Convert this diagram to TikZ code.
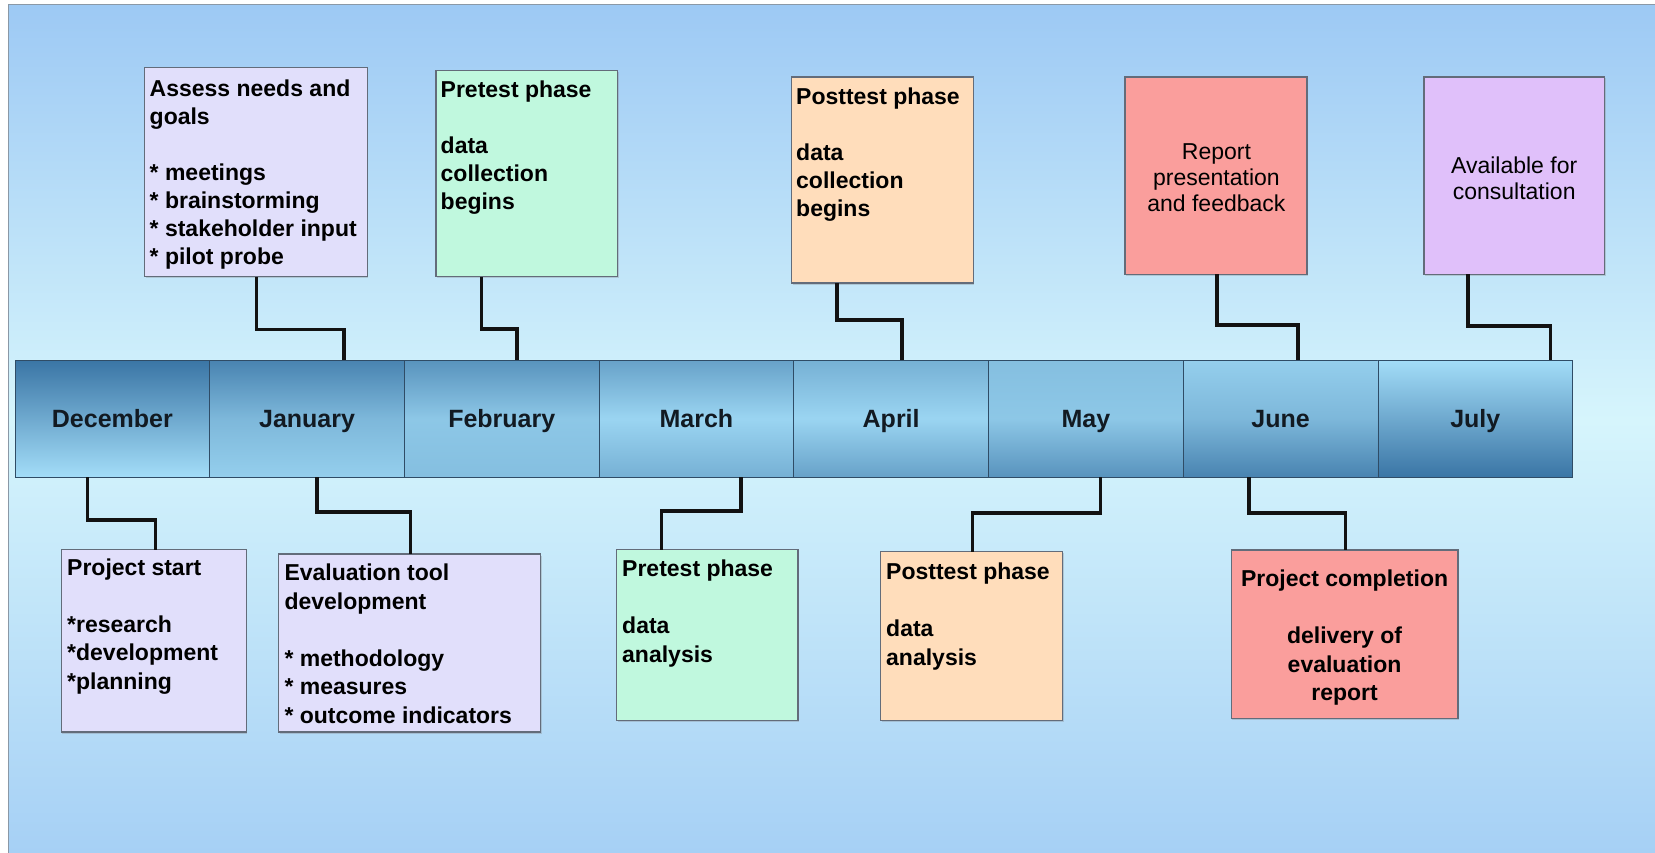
\documentclass[tikz,border=0pt]{standalone}
\usepackage{fontspec}
\setmainfont{Liberation Sans}
\usetikzlibrary{shadows}
\definecolor{bgtop}{HTML}{9DC9F4}
\definecolor{bgmid}{HTML}{D6F5FC}
\definecolor{bgbot}{HTML}{A6D0F5}
\definecolor{framec}{HTML}{8A98A6}
\definecolor{bardark}{HTML}{3A75A5}
\definecolor{barlight}{HTML}{A3DDF8}
\definecolor{cellline}{HTML}{2F4C66}
\definecolor{monthtext}{HTML}{121A22}
\definecolor{boxline}{HTML}{636C7A}
\definecolor{lav}{HTML}{E1DFFB}
\definecolor{mint}{HTML}{C0F8DE}
\definecolor{peach}{HTML}{FFDDBB}
\definecolor{salmon}{HTML}{FA9E9C}
\definecolor{violet}{HTML}{E0C0FA}
\definecolor{connc}{HTML}{121212}
\begin{document}
\begin{tikzpicture}[x=1pt,y=-1pt,
  box/.style={draw=boxline, line width=1.2pt, anchor=north west, inner sep=0pt, outer sep=0pt,
    drop shadow={shadow xshift=1pt, shadow yshift=-1.5pt, opacity=0.3}},
  cell/.style n args={3}{draw=cellline, line width=0.8pt, minimum width=194.7pt, minimum height=117pt,
    inner sep=0pt, outer sep=0pt, text height=20pt, text depth=2pt,
    font=\fontsize{25}{30}\selectfont\bfseries, text=monthtext,
    top color=bardark!#1!barlight, bottom color=bardark!#3!barlight, middle color=bardark!#2!barlight},
  txt/.style={font=\fontsize{23}{28}\selectfont\bfseries, align=left, inner sep=0pt, anchor=north west, text=black},
  txtb/.style={txt, font=\fontsize{23}{28.5}\selectfont\bfseries},
  txtc/.style={font=\fontsize{23}{26}\selectfont, align=center, inner sep=0pt, anchor=north, text=black},
  conn/.style={draw=connc, line width=3.4pt, line join=miter}]
\useasboundingbox (0,0) rectangle (1655,853);
\fill[white] (0,0) rectangle (1655,853);
% background
\shade[top color=bgtop, bottom color=bgmid] (8,5) rectangle (1655,420);
\shade[top color=bgmid, bottom color=bgbot] (8,420) rectangle (1655,853);
\draw[framec, line width=1pt] (8,853) -- (8,5) -- (1655,5);
% timeline bar
\node[cell={100}{50}{0}] (dec) at (112.35,418.5) {December};
\node[cell={86}{36}{14}] (jan) at (307.05,418.5) {January};
\node[cell={71}{21}{29}] (feb) at (501.75,418.5) {February};
\node[cell={57}{8}{43}] (mar) at (696.45,418.5) {March};
\node[cell={43}{8}{57}] (apr) at (891.15,418.5) {April};
\node[cell={29}{21}{71}] (may) at (1085.85,418.5) {May};
\node[cell={14}{36}{86}] (jun) at (1280.55,418.5) {June};
\node[cell={0}{50}{100}] (jul) at (1475.25,418.5) {July};
% top boxes
\node[box, fill=lav, minimum width=222.7pt, minimum height=209pt] (b1) at (144.6,67.5) {};
\node[txt] (t1) at (149.5,79.3) {Assess needs and\\goals\\[28pt]* meetings\\* brainstorming\\* stakeholder input\\* pilot probe};
\node[box, fill=mint, minimum width=181.5pt, minimum height=205.8pt] (b2) at (436,70.7) {};
\node[txt] (t2) at (440.5,80.4) {Pretest phase\\[28pt]data\\collection\\begins};
\node[box, fill=peach, minimum width=181.6pt, minimum height=206pt] (b3) at (791.6,77) {};
\node[txt] (t3) at (796,87.7) {Posttest phase\\[28pt]data\\collection\\begins};
\node[box, fill=salmon, minimum width=182pt, minimum height=197.4pt] (b4) at (1125,77) {};
\node[txtc] (t4) at (1216.4,143.7) {Report\\presentation\\and feedback};
\node[box, fill=violet, minimum width=180.5pt, minimum height=197.4pt] (b5) at (1424,77) {};
\node[txtc] (t5) at (1514.2,156.4) {Available for\\consultation};
% bottom boxes
\node[box, fill=lav, minimum width=185pt, minimum height=182.5pt] (b6) at (61.3,549.5) {};
\node[txtb] (t6) at (67,558.5) {Project start\\[28.5pt]*research\\*development\\*planning};
\node[box, fill=lav, minimum width=262.2pt, minimum height=178pt] (b7) at (278.6,554) {};
\node[txtb] (t7) at (284.3,563.7) {Evaluation tool\\development\\[28.5pt]* methodology\\* measures\\* outcome indicators};
\node[box, fill=mint, minimum width=181.5pt, minimum height=171.3pt] (b8) at (616.5,549.5) {};
\node[txtb] (t8) at (622,559.7) {Pretest phase\\[28.5pt]data\\analysis};
\node[box, fill=peach, minimum width=181.8pt, minimum height=169pt] (b9) at (880.7,551.7) {};
\node[txtb] (t9) at (886,562.7) {Posttest phase\\[28.5pt]data\\analysis};
\node[box, fill=salmon, minimum width=226.8pt, minimum height=168.5pt] (b10) at (1231.2,550) {};
\node[txtb, align=center, anchor=north] (t10) at (1344.6,570) {Project completion\\[28.5pt]delivery of\\evaluation\\report};
% connectors top
\draw[conn] ([xshift=0.5pt]b1.south) -- ++(0,52.8) -| ([xshift=37pt]jan.north);
\draw[conn] ([xshift=-45.5pt]b2.south) -- ++(0,52.5) -| ([xshift=15.3pt]feb.north);
\draw[conn] ([xshift=-45.4pt]b3.south) -- ++(0,37) -| ([xshift=11pt]apr.north);
\draw[conn] ([xshift=1pt]b4.south) -- ++(0,50.6) -| ([xshift=17.5pt]jun.north);
\draw[conn] ([xshift=-46.3pt]b5.south) -- ++(0,51.6) -| ([xshift=75.3pt]jul.north);
% connectors bottom
\draw[conn] ([xshift=-24.9pt]dec.south) -- ++(0,43) -| ([xshift=1.5pt]b6.north);
\draw[conn] ([xshift=10pt]jan.south) -- ++(0,35) -| ([xshift=1pt]b7.north);
\draw[conn] ([xshift=44.5pt]mar.south) -- ++(0,34) -| ([xshift=-45.9pt]b8.north);
\draw[conn] ([xshift=14.5pt]may.south) -- ++(0,36) -| ([xshift=0.6pt]b9.north);
\draw[conn] ([xshift=-31.5pt]jun.south) -- ++(0,36) -| ([xshift=1pt]b10.north);
\end{tikzpicture}
\end{document}
